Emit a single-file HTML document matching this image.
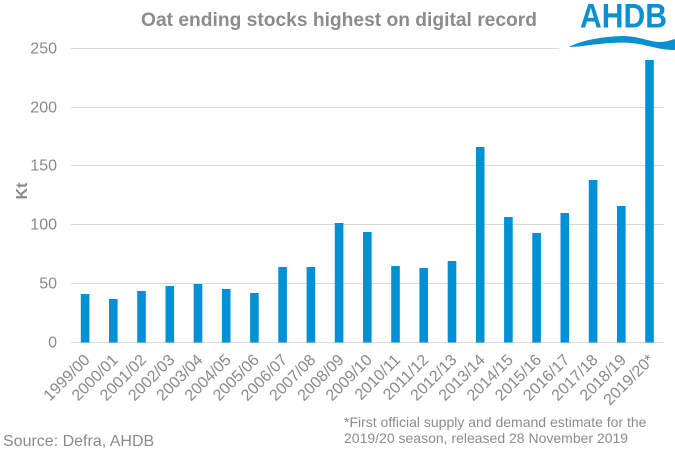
<!DOCTYPE html>
<html>
<head>
<meta charset="utf-8">
<style>
  html, body { margin: 0; padding: 0; background: #ffffff; }
  body { width: 675px; height: 454px; overflow: hidden; }
  svg { display: block; }
  text { font-family: "Liberation Sans", Arial, sans-serif; }
</style>
</head>
<body>
<svg width="675" height="454" viewBox="0 0 675 454" xmlns="http://www.w3.org/2000/svg">
  <rect x="0" y="0" width="675" height="454" fill="#ffffff"/>

  <!-- Title -->
  <text x="141" y="26" font-size="19" font-weight="bold" fill="#8c8c8c" textLength="396" lengthAdjust="spacingAndGlyphs">Oat ending stocks highest on digital record</text>

  <!-- Gridlines -->
  <g stroke="#d9d9d9" stroke-width="1">
    <line x1="71" y1="48.5" x2="664" y2="48.5"/>
    <line x1="71" y1="107.5" x2="664" y2="107.5"/>
    <line x1="71" y1="165.5" x2="664" y2="165.5"/>
    <line x1="71" y1="224.5" x2="664" y2="224.5"/>
    <line x1="71" y1="283.5" x2="664" y2="283.5"/>
    <line x1="71" y1="342.5" x2="664" y2="342.5"/>
  </g>

  <!-- Y tick labels -->
  <g font-size="16" fill="#8a8a8a" text-anchor="end">
    <text x="57" y="53.5">250</text>
    <text x="57" y="112.5">200</text>
    <text x="57" y="170.5">150</text>
    <text x="57" y="229.5">100</text>
    <text x="57" y="288.5">50</text>
    <text x="57" y="347.5">0</text>
  </g>

  <!-- Y axis title -->
  <text x="27" y="191" font-size="16" font-weight="bold" fill="#8a8a8a" text-anchor="middle" transform="rotate(-90 27 191)">Kt</text>

  <!-- Bars -->
  <g fill="#0090d5">
    <rect x="80.8" y="294" width="8.6" height="48.5"/>
    <rect x="109.0" y="299" width="8.6" height="43.5"/>
    <rect x="137.2" y="291" width="8.6" height="51.5"/>
    <rect x="165.5" y="286" width="8.6" height="56.5"/>
    <rect x="193.7" y="284" width="8.6" height="58.5"/>
    <rect x="221.9" y="289" width="8.6" height="53.5"/>
    <rect x="250.1" y="293" width="8.6" height="49.5"/>
    <rect x="278.3" y="267" width="8.6" height="75.5"/>
    <rect x="306.6" y="267" width="8.6" height="75.5"/>
    <rect x="334.8" y="223" width="8.6" height="119.5"/>
    <rect x="363.0" y="232" width="8.6" height="110.5"/>
    <rect x="391.2" y="266" width="8.6" height="76.5"/>
    <rect x="419.4" y="268" width="8.6" height="74.5"/>
    <rect x="447.7" y="261" width="8.6" height="81.5"/>
    <rect x="475.9" y="147" width="8.6" height="195.5"/>
    <rect x="504.1" y="217" width="8.6" height="125.5"/>
    <rect x="532.3" y="233" width="8.6" height="109.5"/>
    <rect x="560.5" y="213" width="8.6" height="129.5"/>
    <rect x="588.8" y="180" width="8.6" height="162.5"/>
    <rect x="617.0" y="206" width="8.6" height="136.5"/>
    <rect x="645.2" y="60" width="8.6" height="282.5"/>
  </g>

  <!-- X labels -->
  <g font-size="16" fill="#8a8a8a" text-anchor="end">
    <text transform="translate(90.8,360.8) rotate(-45)">1999/00</text>
    <text transform="translate(119.0,360.8) rotate(-45)">2000/01</text>
    <text transform="translate(147.2,360.8) rotate(-45)">2001/02</text>
    <text transform="translate(175.5,360.8) rotate(-45)">2002/03</text>
    <text transform="translate(203.7,360.8) rotate(-45)">2003/04</text>
    <text transform="translate(231.9,360.8) rotate(-45)">2004/05</text>
    <text transform="translate(260.1,360.8) rotate(-45)">2005/06</text>
    <text transform="translate(288.3,360.8) rotate(-45)">2006/07</text>
    <text transform="translate(316.6,360.8) rotate(-45)">2007/08</text>
    <text transform="translate(344.8,360.8) rotate(-45)">2008/09</text>
    <text transform="translate(373.0,360.8) rotate(-45)">2009/10</text>
    <text transform="translate(401.2,360.8) rotate(-45)">2010/11</text>
    <text transform="translate(429.4,360.8) rotate(-45)">2011/12</text>
    <text transform="translate(457.7,360.8) rotate(-45)">2012/13</text>
    <text transform="translate(485.9,360.8) rotate(-45)">2013/14</text>
    <text transform="translate(514.1,360.8) rotate(-45)">2014/15</text>
    <text transform="translate(542.3,360.8) rotate(-45)">2015/16</text>
    <text transform="translate(570.5,360.8) rotate(-45)">2016/17</text>
    <text transform="translate(598.8,360.8) rotate(-45)">2017/18</text>
    <text transform="translate(627.0,360.8) rotate(-45)">2018/19</text>
    <text transform="translate(655.2,360.8) rotate(-45)">2019/20*</text>
  </g>

  <!-- Footnote -->
  <g font-size="14" fill="#8c8c8c">
    <text x="344" y="427">*First official supply and demand estimate for the</text>
    <text x="344" y="443">2019/20 season, released 28 November 2019</text>
  </g>

  <!-- Source -->
  <text x="3" y="446" font-size="16" fill="#8c8c8c">Source: Defra, AHDB</text>

  <!-- Logo -->
  <rect x="559" y="0" width="116" height="54" fill="#ffffff"/>
  <text x="580" y="27.5" font-size="34" font-weight="bold" fill="#0a8fd2" textLength="87" lengthAdjust="spacingAndGlyphs">AHDB</text>
  <path d="M569,47 C580,41 598,37 622,36 C640,36 650,42 660,42 C666,42 671,40 675,39 L675,50 C668,50 660,49 648,46 C632,42 620,42 600,44 C588,45 578,47 569,47 Z" fill="#0a8fd2"/>
</svg>
</body>
</html>
